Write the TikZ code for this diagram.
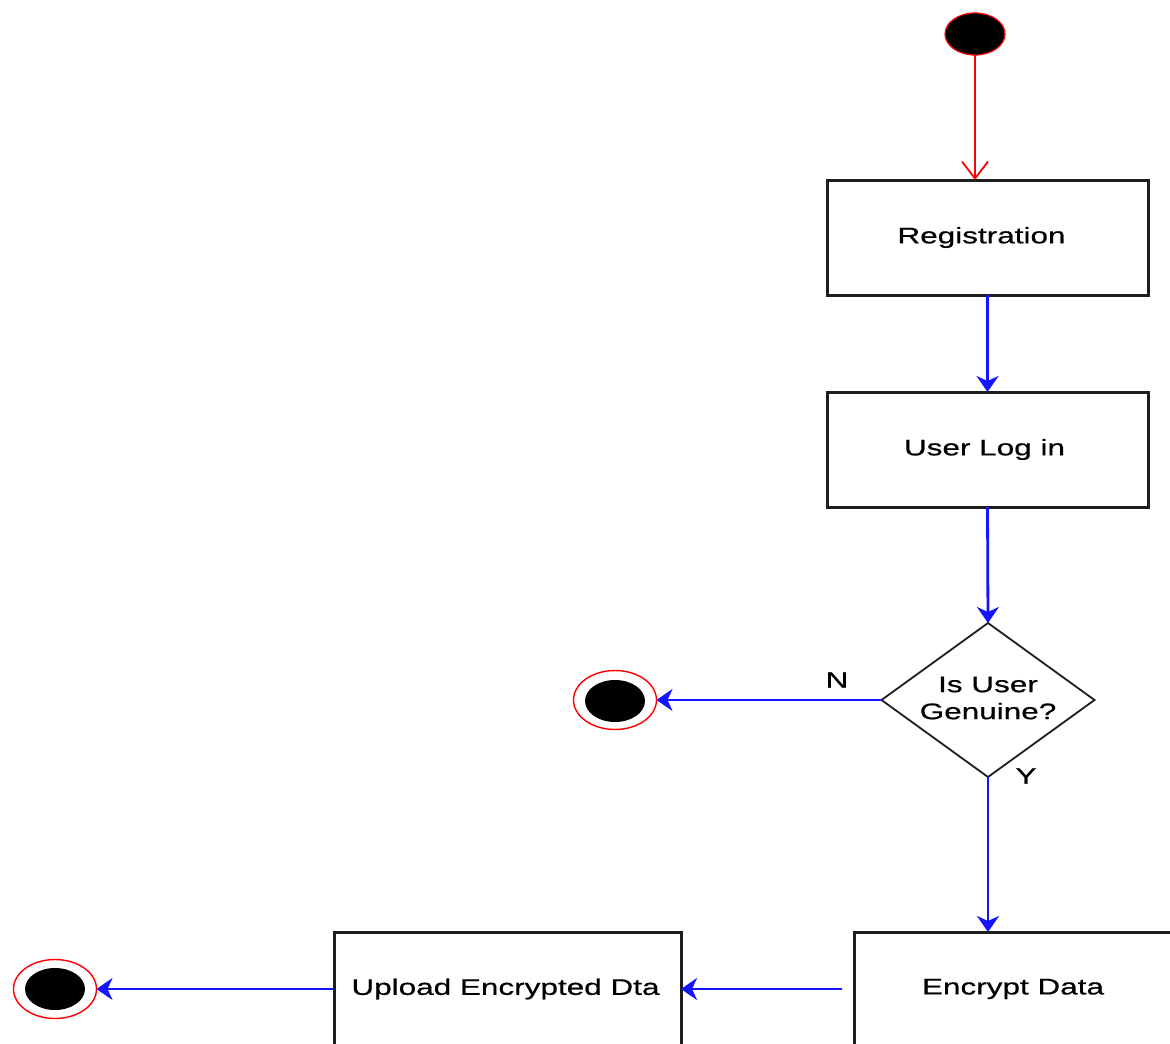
\documentclass[tikz,border=0pt]{standalone}
\usepackage{fontspec}
\setmainfont{Liberation Sans}[FakeStretch=1.4, FakeBold=0.6]
\usetikzlibrary{arrows.meta,shapes.geometric}
\definecolor{flowblue}{RGB}{20,20,255}
\definecolor{flowred}{RGB}{255,0,0}
\definecolor{edgegray}{RGB}{30,30,30}
\tikzset{
  actbox/.style={draw=edgegray, line width=3pt, fill=white, inner sep=0pt, outer sep=0pt,
    font=\fontsize{22.5}{27}\selectfont},
  decbox/.style={diamond, draw=edgegray, line width=1.8pt, inner sep=0pt, outer sep=0pt,
    minimum width=213pt, minimum height=154pt},
  dectext/.style={align=center, font=\fontsize{22.5}{27}\selectfont},
  guard/.style={font=\fontsize{22.5}{27}\selectfont},
  startdot/.style={ellipse, draw=flowred, line width=1.2pt, fill=black, inner sep=0pt, outer sep=0pt,
    minimum width=60pt, minimum height=42pt},
  endring/.style={ellipse, draw=flowred, line width=1.4pt, fill=white, inner sep=0pt, outer sep=0pt,
    minimum width=83pt, minimum height=59pt},
  enddot/.style={ellipse, fill=black, inner sep=0pt, outer sep=0pt,
    minimum width=60pt, minimum height=42pt},
  flow/.style={draw=flowblue, line width=2.8pt, -{Stealth[length=16pt, width=22pt, inset=5pt]}},
  initflow/.style={draw=flowred, line width=1.8pt, -{Straight Barb[length=17pt, width=26pt, line width=1.8pt]}}
}
\begin{document}
\begin{tikzpicture}[x=1pt, y=-1pt]
  \useasboundingbox (0,0) rectangle (1170,1044);
  \clip (0,0) rectangle (1170,1044);
  \fill[white] (0,0) rectangle (1170,1044);

  % initial state
  \node[startdot] (init) at (975,34) {};

  % activities
  \node[actbox, minimum width=321pt, minimum height=115pt] (reg) at (987.5,237.5) {Registration\hspace*{12pt}};
  \node[actbox, minimum width=321pt, minimum height=115pt] (login) at (987.5,449.5) {User Log in\hspace*{6pt}};

  % decision
  \node[decbox] (dec) at (988,700) {};
  \node[dectext] (dectxt) at (988,698) {Is User\\Genuine?};

  % bottom row
  \node[actbox, minimum width=318pt, minimum height=114pt] (enc) at (1013,989) {Encrypt Data};
  \node[actbox, minimum width=347pt, minimum height=114pt] (up) at (507.5,989) {Upload Encrypted Dta\hspace*{4pt}};

  % final states
  \node[endring] (endN) at (615,700) {};
  \node[enddot] (endNdot) at (615,701) {};
  \node[endring] (endU) at (55,989) {};
  \node[enddot] (endUdot) at (55,989) {};

  % guards
  \node[guard] (gN) at (837,680) {N};
  \node[guard] (gY) at (1026,776) {Y};

  % connectors
  \draw[initflow] (init.south) -- (reg.north -| init.south);
  \draw[flow] (reg.south) -- (login.north);
  \draw[flow] (login.south) -- (dec.north);
  \draw[flow] (dec.west) -- (endN.east);
  \draw[flow] (dec.south) -- (dec.south |- enc.north);
  \draw[flow, shorten <=12pt] (enc.west) -- (up.east);
  \draw[flow] (up.west) -- (endU.east);
\end{tikzpicture}
\end{document}
